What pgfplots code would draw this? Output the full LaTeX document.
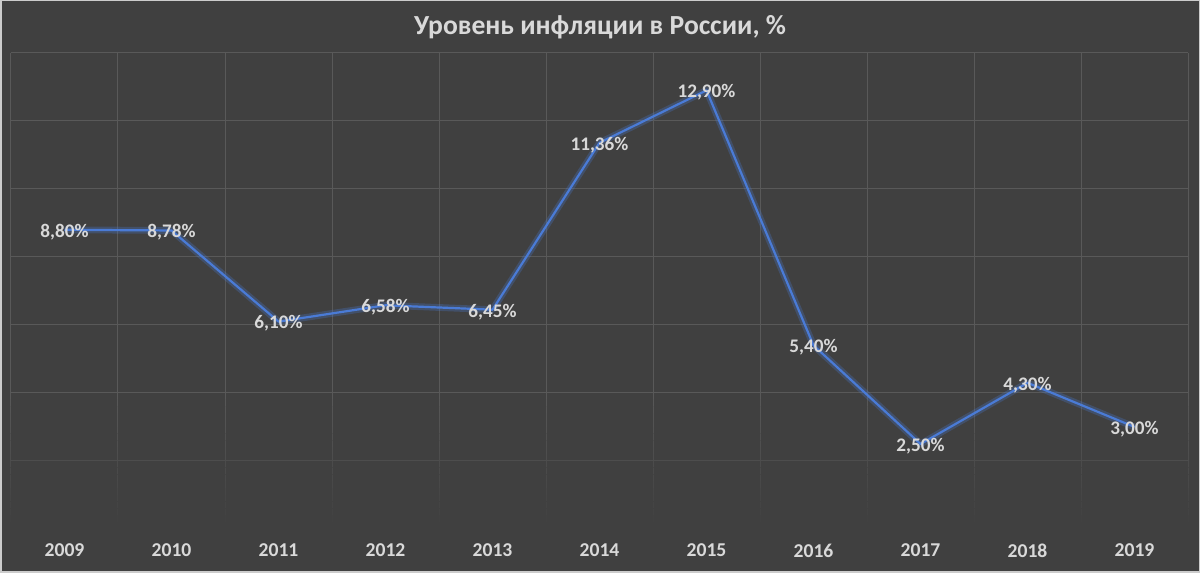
\documentclass[border=0pt]{standalone}
\usepackage{fontspec}
\setmainfont{Carlito}
\usepackage{pgfplots}
\pgfplotsset{compat=1.18}
\definecolor{bg}{HTML}{404040}
\definecolor{gridc}{HTML}{595959}
\definecolor{txt}{HTML}{D9D9D9}
\definecolor{lineblue}{HTML}{4A7BD6}
\begin{document}
\begin{tikzpicture}
\path[use as bounding box, fill=bg] (0,0) rectangle (600pt,286.5pt);
\begin{axis}[
  at={(5.5pt,22pt)}, anchor=south west, scale only axis,
  width=588.5pt, height=238pt,
  xmin=-0.5, xmax=10.5, ymin=0, ymax=14,
  xtick={0,...,10},
  xticklabels={2009,2010,2011,2012,2013,2014,2015,2016,2017,2018,2019},
  minor xtick={-0.5,0.5,1.5,2.5,3.5,4.5,5.5,6.5,7.5,8.5,9.5,10.5},
  ytick={0,2,4,6,8,10,12,14}, yticklabels={},
  xminorgrids=true, ymajorgrids=true, xmajorgrids=false,
  grid style={color=gridc, line width=0.5pt},
  minor grid style={color=gridc, line width=0.5pt},
  major tick length=0pt, minor tick length=0pt,
  axis line style={draw=none},
  ticklabel style={text=txt, font=\fontsize{9.8}{11}\selectfont\bfseries},
  xticklabel style={yshift=-4pt},
  clip=false,
]
\foreach \k in {0,...,19}{
  \pgfmathsetmacro\ya{0.2*\k}
  \pgfmathsetmacro\yb{0.2*\k+0.21}
  \pgfmathsetmacro\op{1-(0.2*\k+0.1)/4}
  \edef\temp{\noexpand\fill[bg, opacity=\op] (axis cs:-0.51,\ya) rectangle (axis cs:10.51,\yb);}
  \temp
}
\fill[bg] (axis cs:-0.51,-0.3) rectangle (axis cs:10.51,0.2);
\addplot[lineblue, opacity=0.28, line width=3.4pt, line join=round] coordinates {
(0,8.80) (1,8.78) (2,6.10) (3,6.58) (4,6.45) (5,11.36) (6,12.90) (7,5.40) (8,2.50) (9,4.30) (10,3.00)};
\addplot[lineblue, line width=1.1pt, line join=round,
  point meta=y,
  nodes near coords={\pgfmathprintnumber[fixed, fixed zerofill, precision=2, use comma, assume math mode=true]{\pgfplotspointmeta}\%},
  nodes near coords align=center,
  every node near coord/.append style={anchor=center, text=txt, font=\fontsize{9.6}{11}\selectfont\bfseries, opacity=1, yshift=-1pt},
] coordinates {
(0,8.80) (1,8.78) (2,6.10) (3,6.58) (4,6.45) (5,11.36) (6,12.90) (7,5.40) (8,2.50) (9,4.30) (10,3.00)};
\end{axis}
\node[text=txt, font=\fontsize{13.8}{16}\selectfont\bfseries] at (300pt,273pt) {Уровень инфляции в России, \%};
\draw[color=black!20, line width=0.75pt] (0.375pt,0.375pt) rectangle (599.625pt,286.125pt);
\end{tikzpicture}
\end{document}
